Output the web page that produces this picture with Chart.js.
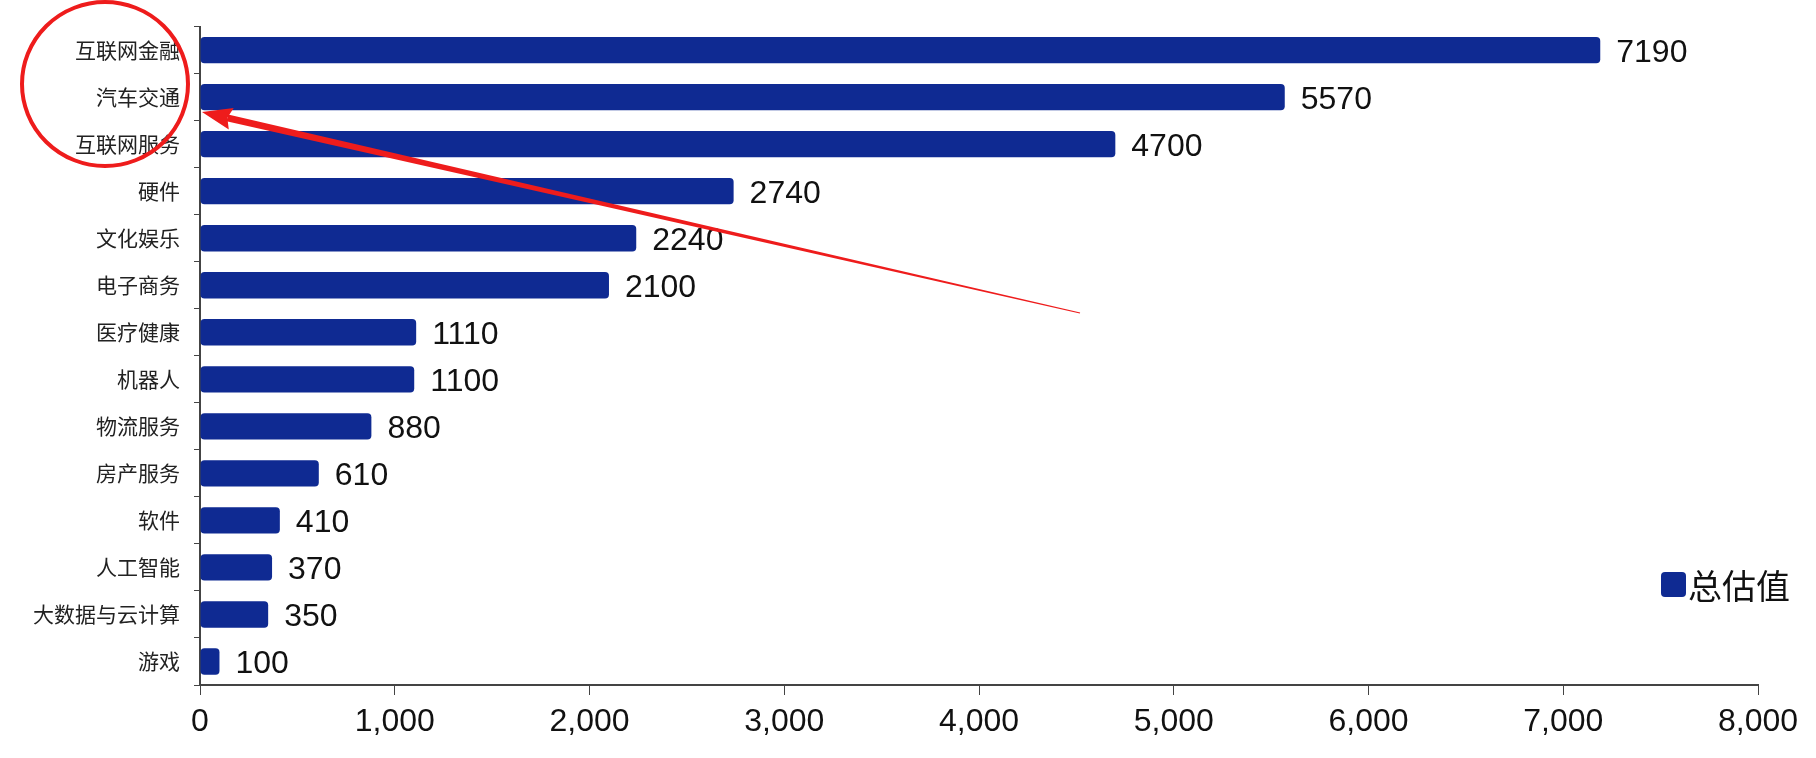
<!DOCTYPE html>
<html>
<head>
<meta charset="utf-8">
<script src="https://cdn.jsdelivr.net/npm/chart.js@4.4.1/dist/chart.umd.min.js"></script>
<style>
  html, body { margin: 0; padding: 0; background: #fff; }
  #chart { display: block; }
</style>
</head>
<body>
<canvas id="chart" width="1816" height="758"></canvas>
<script>
const categories = ["互联网金融", "汽车交通", "互联网服务", "硬件", "文化娱乐", "电子商务", "医疗健康", "机器人", "物流服务", "房产服务", "软件", "人工智能", "大数据与云计算", "游戏"];
const totalValues = [7190, 5570, 4700, 2740, 2240, 2100, 1110, 1100, 880, 610, 410, 370, 350, 100];
const xTicks = [0, 1000, 2000, 3000, 4000, 5000, 6000, 7000, 8000];
const seriesName = "总估值";

const barColor = "#0f2a92";
const font = "'Liberation Sans', Arial, 'Noto Sans CJK SC', sans-serif";

// value labels, legend and the red annotation
const extras = {
  id: "extras",
  afterDatasetsDraw(chart) {
    const ctx = chart.ctx;
    const meta = chart.getDatasetMeta(0);
    ctx.save();
    ctx.fillStyle = "#111";
    ctx.font = "32px " + font;
    ctx.textBaseline = "middle";
    meta.data.forEach(function (bar, i) {
      ctx.fillText(String(totalValues[i]), bar.x + 16, bar.y + 3);
    });

    // legend
    ctx.fillStyle = barColor;
    ctx.beginPath();
    ctx.roundRect(1661, 572, 25, 25, 4);
    ctx.fill();
    ctx.fillStyle = "#111";
    ctx.font = "34px 'Noto Sans CJK SC', sans-serif";
    ctx.fillText(seriesName, 1688, 586);

    // red circle
    ctx.strokeStyle = "#ee1c1c";
    ctx.lineWidth = 4;
    ctx.beginPath();
    ctx.ellipse(105, 84, 83, 82, 0, 0, Math.PI * 2);
    ctx.stroke();

    // red arrow, tapering toward the tail
    const tip = { x: 202, y: 112 };
    const tail = { x: 1080, y: 313 };
    const ang = Math.atan2(tail.y - tip.y, tail.x - tip.x);
    const nx = -Math.sin(ang), ny = Math.cos(ang);
    const base = { x: tip.x + Math.cos(ang) * 26, y: tip.y + Math.sin(ang) * 26 };
    ctx.fillStyle = "#ee1c1c";
    ctx.beginPath();
    ctx.moveTo(base.x + nx * 3.5, base.y + ny * 3.5);
    ctx.lineTo(tail.x + nx * 0.6, tail.y + ny * 0.6);
    ctx.lineTo(tail.x - nx * 0.6, tail.y - ny * 0.6);
    ctx.lineTo(base.x - nx * 3.5, base.y - ny * 3.5);
    ctx.closePath();
    ctx.fill();
    ctx.beginPath();
    ctx.moveTo(tip.x, tip.y);
    ctx.lineTo(base.x + Math.cos(ang) * 4 + nx * 11, base.y + Math.sin(ang) * 4 + ny * 11);
    ctx.lineTo(base.x, base.y);
    ctx.lineTo(base.x + Math.cos(ang) * 4 - nx * 11, base.y + Math.sin(ang) * 4 - ny * 11);
    ctx.closePath();
    ctx.fill();
    ctx.restore();
  }
};

new Chart(document.getElementById("chart"), {
  type: "bar",
  data: {
    labels: categories,
    datasets: [
      {
        label: seriesName,
        data: totalValues,
        backgroundColor: barColor,
        borderRadius: 4,
        borderSkipped: false,
        categoryPercentage: 1,
        barPercentage: 0.56
      }
    ]
  },
  options: {
    indexAxis: "y",
    responsive: false,
    devicePixelRatio: 1,
    animation: false,
    layout: { padding: { top: 18, right: 58, bottom: 0, left: 0 } },
    plugins: {
      legend: { display: false },
      tooltip: { enabled: false }
    },
    scales: {
      x: {
        min: 0,
        max: 8000,
        afterBuildTicks: function (scale) {
          scale.ticks = xTicks.map(function (v) { return { value: v }; });
        },
        afterFit: function (scale) { scale.height = 73; },
        grid: {
          drawOnChartArea: false,
          drawTicks: true,
          tickLength: 10,
          color: "#444"
        },
        border: { color: "#444", width: 2 },
        ticks: {
          color: "#111",
          padding: 8,
          font: { size: 32, family: font }
        }
      },
      y: {
        afterFit: function (scale) { scale.width = 200; },
        grid: {
          drawOnChartArea: false,
          offset: true,
          tickLength: 6,
          color: "#444"
        },
        border: { color: "#444", width: 2 },
        ticks: {
          color: "#222",
          padding: 14,
          font: { size: 21, family: "'Noto Sans CJK SC', sans-serif" }
        }
      }
    }
  },
  plugins: [extras]
});
</script>
</body>
</html>
